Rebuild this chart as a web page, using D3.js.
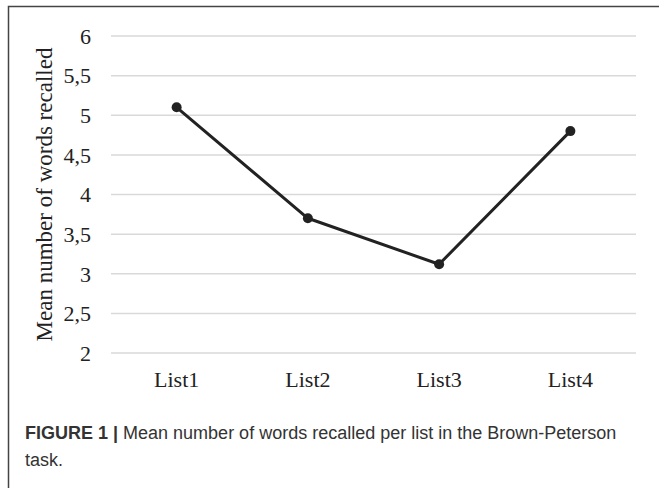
<!DOCTYPE html>
<html><head><meta charset="utf-8">
<script src="https://cdn.jsdelivr.net/npm/d3@7"></script>
<style>body{margin:0;background:#fff;}svg{display:block;}</style>
</head><body>
<script>
const categories = ["List1", "List2", "List3", "List4"];
const values = [5.1, 3.7, 3.12, 4.8];
const yTicks = [2, 2.5, 3, 3.5, 4, 4.5, 5, 5.5, 6];
const yTickLabels = ["2", "2,5", "3", "3,5", "4", "4,5", "5", "5,5", "6"];
const yTitle = "Mean number of words recalled";
const captionBold = "FIGURE 1 | ";
const captionLine1 = "Mean number of words recalled per list in the Brown-Peterson";
const captionLine2 = "task.";

const W = 659, H = 488;
const svg = d3.select("body").append("svg").attr("width", W).attr("height", H);

// frame
svg.append("path").attr("d", `M8.5,${H} V6.5 H${W}`).attr("fill", "none").attr("stroke", "#444").attr("stroke-width", 1.5);

const x = d3.scaleBand().domain(categories).range([111, 636]);
const y = d3.scaleLinear().domain([2, 6]).range([353, 36]);

// gridlines
svg.append("g").selectAll("line").data(yTicks).join("line")
  .attr("x1", 111).attr("x2", 636)
  .attr("y1", d => y(d)).attr("y2", d => y(d))
  .attr("stroke", "#d9d9d9").attr("stroke-width", 1.5);

// y axis labels
const yAxis = d3.axisLeft(y).tickValues(yTicks).tickSize(0).tickPadding(0)
  .tickFormat(d => yTickLabels[yTicks.indexOf(d)]);
const gy = svg.append("g").attr("transform", "translate(91,0)").call(yAxis);
gy.select(".domain").remove();
gy.selectAll("text").attr("font-family", "Liberation Serif, Times New Roman, serif")
  .attr("font-size", 22).attr("fill", "#222").attr("dy", "0.33em");

// x axis labels
const xAxis = d3.axisBottom(x).tickSize(0).tickPadding(0);
const gx = svg.append("g").attr("transform", "translate(0,370)").call(xAxis);
gx.select(".domain").remove();
gx.selectAll("text").attr("font-family", "Liberation Serif, Times New Roman, serif")
  .attr("font-size", 22).attr("fill", "#222").attr("dy", "0.75em");

// y title
svg.append("text").attr("transform", `translate(52,${(36+353)/2}) rotate(-90)`)
  .attr("text-anchor", "middle").attr("font-family", "Liberation Serif, Times New Roman, serif")
  .attr("font-size", 23).attr("fill", "#222").text(yTitle);

// line
const line = d3.line().x((d, i) => x(categories[i]) + x.bandwidth() / 2).y(d => y(d));
svg.append("path").datum(values).attr("d", line).attr("fill", "none")
  .attr("stroke", "#222").attr("stroke-width", 3).attr("stroke-linejoin", "round");
svg.append("g").selectAll("circle").data(values).join("circle")
  .attr("cx", (d, i) => x(categories[i]) + x.bandwidth() / 2).attr("cy", d => y(d))
  .attr("r", 5).attr("fill", "#222");

// caption
const cap = svg.append("text").attr("x", 25).attr("y", 439)
  .attr("font-family", "Liberation Sans, Arial, sans-serif").attr("font-size", 18).attr("fill", "#333");
cap.append("tspan").attr("font-weight", "bold").text(captionBold);
cap.append("tspan").text(captionLine1);
svg.append("text").attr("x", 25).attr("y", 466)
  .attr("font-family", "Liberation Sans, Arial, sans-serif").attr("font-size", 18).attr("fill", "#333")
  .text(captionLine2);
</script>
</body></html>
